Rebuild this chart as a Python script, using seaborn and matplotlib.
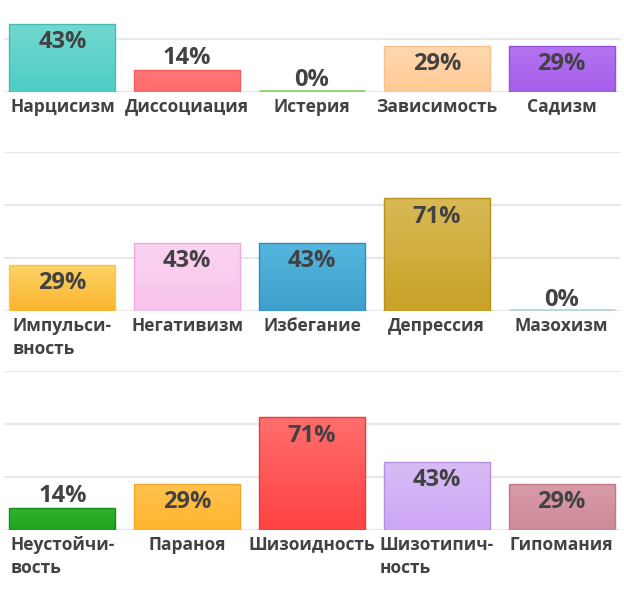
import matplotlib
matplotlib.use("Agg")
import matplotlib.pyplot as plt
import matplotlib.colors as mcolors
import seaborn as sns
import numpy as np

# three rows of five bars, values in percent
row1_labels = ["Нарцисизм", "Диссоциация", "Истерия", "Зависимость", "Садизм"]
row1_values = [43, 14, 0, 29, 29]
row1_top = ["#73d8cf", "#ff7777", "#a6e27f", "#ffd9b0", "#b574f0"]
row1_bottom = ["#4ecdc4", "#ff6b6b", "#8fd66a", "#ffc995", "#a55eea"]
row1_edge = ["#44bdb4", "#f06060", "#8fd66a", "#f5c28e", "#9650dc"]

row2_labels = ["Импульси-\nвность", "Негативизм", "Избегание", "Депрессия", "Мазохизм"]
row2_values = [29, 43, 43, 71, 0]
row2_top = ["#fcd467", "#fbd3f1", "#55b6de", "#d8b955", "#c5e2df"]
row2_bottom = ["#fbb42d", "#f9c4ec", "#3e9fcc", "#c9a227", "#b5d9d5"]
row2_edge = ["#f5c84a", "#eeaadc", "#2f8dba", "#b8911c", "#b5d9d5"]

row3_labels = ["Неустойчи-\nвость", "Параноя", "Шизоидность", "Шизотипич-\nность", "Гипомания"]
row3_values = [14, 29, 71, 43, 29]
row3_top = ["#30b530", "#ffc350", "#ff6e6e", "#d8bcf5", "#d89ba9"]
row3_bottom = ["#20a320", "#ffb42e", "#ff4242", "#cda6f5", "#ce8a99"]
row3_edge = ["#178a17", "#f2a623", "#ea3c3c", "#b58fe0", "#c07a8a"]

rows = [
    (row1_labels, row1_values, row1_top, row1_bottom, row1_edge),
    (row2_labels, row2_values, row2_top, row2_bottom, row2_edge),
    (row3_labels, row3_values, row3_top, row3_bottom, row3_edge),
]

sns.set_theme(style="white")
plt.rcParams["font.family"] = ["Open Sans", "DejaVu Sans"]

W, H = 624, 598
fig = plt.figure(figsize=(W / 100, H / 100), dpi=100)

text_col = "#424242"
baselines = [92, 311, 530]   # pixel row of the zero line
axh = 159                     # pixels for 0..100

for (labels, values, tops, bottoms, edges), base in zip(rows, baselines):
    ax = fig.add_axes([0, (H - base) / H, 1, axh / H])
    sns.barplot(x=labels, y=values, hue=labels, palette=bottoms, legend=False,
                width=0.85, ax=ax, zorder=3)
    ax.set_xlim(-0.5, 4.5)
    ax.set_ylim(0, 100)
    for gy in [0, 100 / 3, 200 / 3, 100]:
        ax.axhline(gy, xmin=5 / W, xmax=620 / W, color="#e8e8e8", lw=1.6, zorder=1)

    for p, v, ct, cb, ce in zip(ax.patches, values, tops, bottoms, edges):
        x0, y0, w, h = p.get_x(), p.get_y(), p.get_width(), p.get_height()
        p.set_edgecolor(ce)
        p.set_linewidth(1.0)
        if v > 0:
            p.set_facecolor("none")
            grad = np.array([mcolors.to_rgb(ct), mcolors.to_rgb(cb)])
            grad = np.linspace(grad[0], grad[1], 64)[:, None, :]
            im = ax.imshow(grad, extent=[x0, x0 + w, y0, y0 + h], aspect="auto",
                           origin="upper", zorder=2, interpolation="bilinear")
            im.set_clip_path(p)
        else:
            ax.plot([x0, x0 + w], [0.4, 0.4], color=ce, lw=2, zorder=4,
                    solid_capstyle="butt")
        if v >= 20:
            ax.annotate(f"{v}%", (x0 + w / 2, v), xytext=(0, -18.5),
                        textcoords="offset pixels", ha="center", va="center",
                        fontsize=17, fontweight="bold", color=text_col, zorder=5)
        else:
            ax.annotate(f"{v}%", (x0 + w / 2, v), xytext=(0, 11.5),
                        textcoords="offset pixels", ha="center", va="center",
                        fontsize=17, fontweight="bold", color=text_col, zorder=5)

    ax.set_xlim(-0.5, 4.5)
    ax.set_ylim(0, 100)
    ax.set_yticks([])
    ax.set_ylabel("")
    ax.tick_params(axis="x", length=0, pad=4)
    for t in ax.get_xticklabels():
        t.set_fontsize(12.5)
        t.set_fontweight("bold")
        t.set_color(text_col)
        t.set_multialignment("left")
        t.set_linespacing(1.4)
    sns.despine(ax=ax, left=True, bottom=True)
    ax.patch.set_alpha(0)

fig.savefig("out.png", dpi=100)
